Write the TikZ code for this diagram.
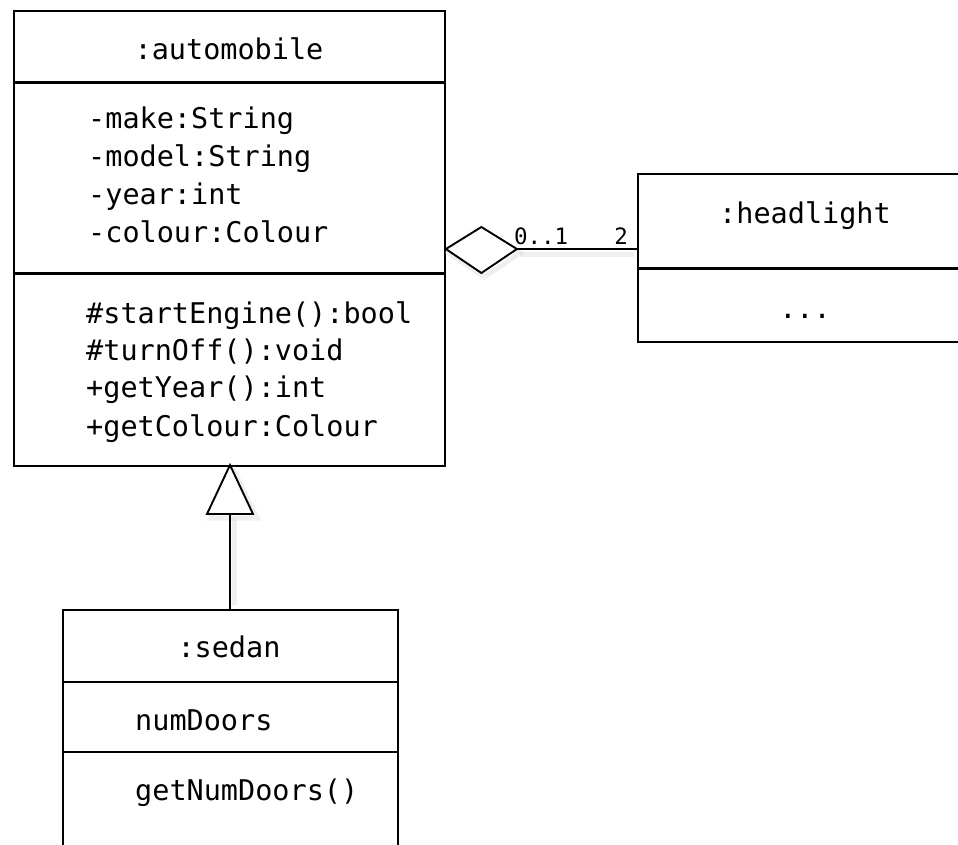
\documentclass[tikz,border=0pt]{standalone}
\usepackage{fontspec}
\usetikzlibrary{calc}
\newfontfamily\umlfont{DejaVu Sans Mono}
\tikzset{
  classbox/.style={draw=black, line width=1.9pt, fill=white, inner sep=0pt, anchor=north west},
  divider/.style={draw=black, line width=3pt},
  thindivider/.style={draw=black, line width=2.1pt},
  member/.style={inner sep=0pt, anchor=base west, font=\umlfont\fontsize{28.5}{32}\selectfont},
  title/.style={inner sep=0pt, anchor=base, font=\umlfont\fontsize{28.5}{32}\selectfont},
  mult/.style={inner sep=0pt, font=\umlfont\fontsize{22.5}{26}\selectfont},
  link/.style={draw=black, line width=1.9pt},
  genlink/.style={draw=black, line width=2.8pt},
  shade/.style={draw=black!18, line width=5pt, opacity=0.35},
}
\begin{document}
\begin{tikzpicture}[x=1pt,y=-1pt]
\useasboundingbox (0,0) rectangle (958,844);
\clip (0,0) rectangle (958,844);

% automobile class
\node[classbox, minimum width=431, minimum height=455] (auto) at (13,10) {};
\draw[divider] (auto.west |- 0,82) -- (auto.east |- 0,82);
\draw[divider] (auto.west |- 0,273) -- (auto.east |- 0,273);
\node[title] (autoname) at (229,59) {:automobile};
\node[member] (amake)   at (88,128) {-make:String};
\node[member] (amodel)  at (88,166) {-model:String};
\node[member] (ayear)   at (88,204) {-year:int};
\node[member] (acolour) at (88,242) {-colour:Colour};
\node[member] (mstart)  at (86,323) {\#startEngine():bool};
\node[member] (moff)    at (86,360) {\#turnOff():void};
\node[member] (myear)   at (86,397) {+getYear():int};
\node[member] (mcolour) at (86,436) {+getColour:Colour};

% headlight class
\node[classbox, minimum width=336, minimum height=168] (head) at (637,173) {};
\draw[divider] (head.west |- 0,268) -- (head.east |- 0,268);
\node[title] (headname) at (805,223) {:headlight};
\node[title] (headdots) at (805,318) {...};

% sedan class
\node[classbox, minimum width=335, minimum height=260] (sedan) at (62,609) {};
\draw[thindivider] (sedan.west |- 0,682) -- (sedan.east |- 0,682);
\draw[thindivider] (sedan.west |- 0,752) -- (sedan.east |- 0,752);
\node[title] (sedanname) at (229,657) {:sedan};
\node[member] (snum) at (135,730) {numDoors};
\node[member] (sget) at (135,800) {getNumDoors()};

% aggregation: automobile <>---- headlight
\coordinate (aggL) at (auto.east |- 0,249);
\coordinate (aggR) at ($(aggL)+(71,0)$);
\coordinate (aggE) at (head.west |- aggR);
\draw[shade] ($(aggL)+(3,4)$) -- ($(aggL)+(38.5,-18)$) -- ($(aggR)+(3,4)$) -- ($(aggL)+(38.5,28)$) -- cycle;
\draw[shade] ($(aggR)+(3,5)$) -- ($(aggE)+(-3,5)$);
\draw[link, fill=white, line join=miter] (aggL) -- ($(aggL)+(35.5,-22)$) -- (aggR) -- ($(aggL)+(35.5,24)$) -- cycle;
\draw[link] (aggR) -- (aggE);
\node[mult, anchor=base west] (m01) at ($(aggR)+(-3,-5)$) {0..1};
\node[mult, anchor=base east] (m2)  at ($(aggE)+(-9,-5)$) {2};

% generalization: sedan ---|> automobile
\coordinate (genTip) at (230,465);
\coordinate (genBase) at (230,514);
\coordinate (genFoot) at (sedan.north -| genBase);
\draw[shade] ($(genBase)+(4,4)$) -- ($(genFoot)+(4,-4)$);
\draw[shade] ($(genTip)+(4,6)$) -- ($(genBase)+(-19,4)$) -- ($(genBase)+(27,4)$) -- cycle;
\draw[genlink] (genBase) -- (genFoot);
\draw[link, fill=white, line join=miter] (genTip) -- ($(genBase)+(-23,0)$) -- ($(genBase)+(23,0)$) -- cycle;
\end{tikzpicture}
\end{document}
